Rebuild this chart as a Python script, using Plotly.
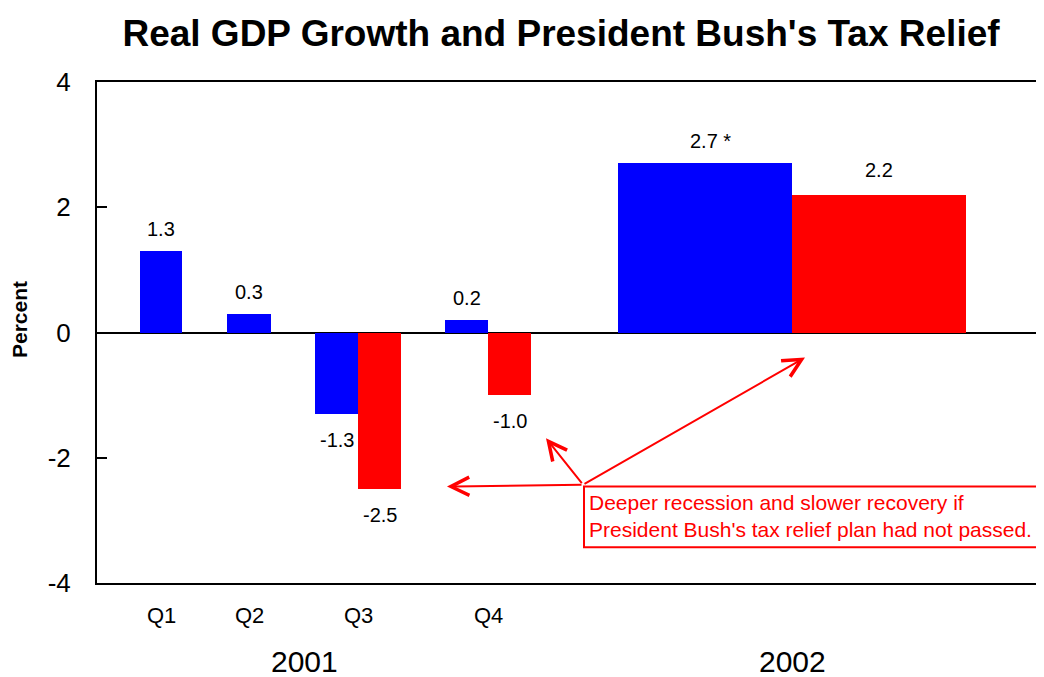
import plotly.graph_objects as go

# ---- data ----
periods = ["Q1", "Q2", "Q3", "Q4", "2002"]
actual = [1.3, 0.3, -1.3, 0.2, 2.7]            # blue: actual real GDP growth
without_relief = [None, None, -2.5, -1.0, 2.2]  # red: without tax relief
actual_text = ["1.3", "0.3", "-1.3", "0.2", "2.7 *"]
without_text = [None, None, "-2.5", "-1.0", "2.2"]
quarter_labels = ["Q1", "Q2", "Q3", "Q4"]
year_labels = ["2001", "2002"]
y_ticks = [-4, -2, 0, 2, 4]

# ---- layout (positions in x-axis units, 1 unit = 1 px) ----
centers = [64, 152, 261, 391, 695]
widths = [42, 44, 43, 43, 174]
paired = [w is not None for w in without_relief]
year_centers = [207, 695]

FONT = "Liberation Sans, Arial, Helvetica, sans-serif"
BLUE = "#0000ff"
RED = "#ff0000"
W, H = 1036, 669  # page body has an 8px margin

blue_offset = [-w if p else -w / 2 for w, p in zip(widths, paired)]
red_x = [c for c, p in zip(centers, paired) if p]
red_y = [v for v in without_relief if v is not None]
red_w = [w for w, p in zip(widths, paired) if p]

fig = go.Figure()
fig.add_trace(go.Bar(x=centers, y=actual, width=widths, offset=blue_offset,
                     marker=dict(color=BLUE, line=dict(width=0)), showlegend=False))
fig.add_trace(go.Bar(x=red_x, y=red_y, width=red_w, offset=[0] * len(red_x),
                     marker=dict(color=RED, line=dict(width=0)), showlegend=False))

ann = []
# value labels
for c, w, off, v, t in zip(centers, widths, blue_offset, actual, actual_text):
    cx = c + off + w / 2
    if t.endswith("*"):
        cx += 5
    ann.append(dict(x=cx, y=v, text=t, showarrow=False, xref="x", yref="y",
                    yanchor="middle", yshift=22 if v > 0 else -26,
                    font=dict(size=20, color="black", family=FONT)))
for c, w, v, t in zip(red_x, red_w, red_y, [t for t in without_text if t]):
    ann.append(dict(x=c + w / 2, y=v, text=t, showarrow=False, xref="x", yref="y",
                    yanchor="middle", yshift=25 if v > 0 else -26,
                    font=dict(size=20, color="black", family=FONT)))
# quarter and year labels
for c, q in zip(centers[:4], quarter_labels):
    ann.append(dict(x=c, y=-0.064, xref="x", yref="paper", text=q, showarrow=False,
                    yanchor="middle", font=dict(size=22, color="black", family=FONT)))
for c, yl in zip(year_centers, year_labels):
    ann.append(dict(x=c, y=-0.156, xref="x", yref="paper", text=yl, showarrow=False,
                    yanchor="middle", font=dict(size=30, color="black", family=FONT)))
# y-axis title
ann.append(dict(x=-0.0813, y=0.525, xref="paper", yref="paper", text="<b>Percent</b>",
                textangle=-90, showarrow=False, xanchor="center", yanchor="middle",
                font=dict(size=21, color="black", family=FONT)))
# arrows
tail = (486, -2.43)
for tip in [(350, -2.46), (449, -1.69), (708, -0.40)]:
    ann.append(dict(x=tip[0], y=tip[1], ax=tail[0], ay=tail[1], xref="x", yref="y",
                    axref="x", ayref="y", text="", showarrow=True, arrowhead=5,
                    arrowsize=1.8, arrowwidth=2, arrowcolor=RED, standoff=0,
                    startstandoff=0))
# note text
ann.append(dict(x=490, y=-2.93, xref="x", yref="y", xanchor="left", yanchor="middle",
                align="left", showarrow=False,
                text="Deeper recession and slower recovery if<br>"
                     "President Bush's tax relief plan had not passed.",
                font=dict(size=21, color=RED, family=FONT)))

fig.add_shape(type="rect", xref="x", yref="y", x0=487, x1=946, y0=-2.46, y1=-3.43,
              line=dict(color=RED, width=2), fillcolor="rgba(0,0,0,0)")

fig.update_layout(
    width=W, height=H,
    margin=dict(l=89, r=0, t=74, b=94),
    paper_bgcolor="white", plot_bgcolor="white",
    barmode="overlay", bargap=0,
    title=dict(text="<b>Real GDP Growth and President Bush's Tax Relief</b>",
               x=553 / W, xref="container", xanchor="center",
               y=1 - 25 / H, yref="container", yanchor="middle",
               font=dict(size=37, color="black", family=FONT)),
    annotations=ann,
    font=dict(family=FONT, color="black"),
)
fig.update_xaxes(range=[0, 947], showgrid=False, zeroline=False, showticklabels=False,
                 ticks="", showline=True, linecolor="black", linewidth=2, mirror=True,
                 fixedrange=True)
fig.update_yaxes(range=[-4, 4], tickvals=y_ticks, ticktext=[str(t) for t in y_ticks],
                 showgrid=False, zeroline=True, zerolinecolor="black", zerolinewidth=2,
                 showline=True, linecolor="black", linewidth=2, mirror=False,
                 ticks="inside", ticklen=10, tickwidth=2, tickcolor="black",
                 ticklabelstandoff=19,
                 tickfont=dict(size=26, color="black", family=FONT), fixedrange=True)

fig.write_html("out.html")
